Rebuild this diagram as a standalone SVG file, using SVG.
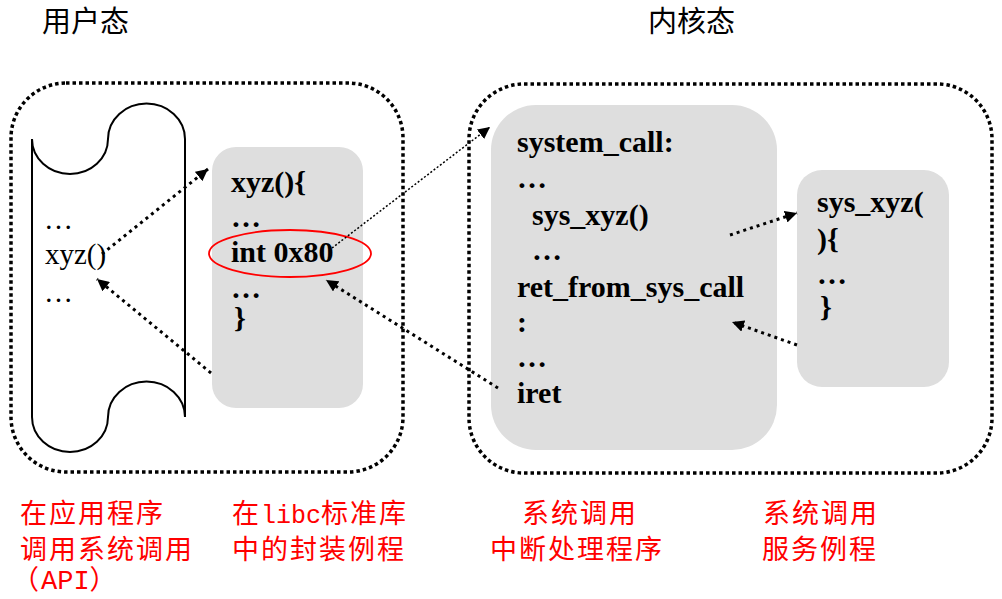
<svg xmlns="http://www.w3.org/2000/svg" width="1002" height="599" viewBox="0 0 1002 599">
<style>
.outer{fill:none;stroke:#000;stroke-width:3.5;stroke-dasharray:3.5 3}
.grey{fill:#dedede;stroke:none}
.code{font-family:"Liberation Serif","Times New Roman",serif;font-weight:bold;font-size:30px;fill:#000}
.plain{font-family:"Liberation Serif","Times New Roman",serif;font-size:29px;fill:#000}
.head{font-family:"Noto Sans CJK SC","Noto Sans",sans-serif;font-size:29px;fill:#000}
.note{font-family:"Noto Sans CJK SC","Noto Sans",sans-serif;font-size:27px;fill:#ff0000;letter-spacing:2px}
.mono{font-family:"Liberation Mono","Courier New",monospace;letter-spacing:0}
.arr{fill:none;stroke:#000;stroke-width:3;stroke-dasharray:3 4;marker-end:url(#ah)}
.thin{fill:none;stroke:#000;stroke-width:1.5;stroke-dasharray:2 2;marker-end:url(#ah)}
</style>
<defs>
<marker id="ah" markerUnits="userSpaceOnUse" markerWidth="14" markerHeight="12" refX="12" refY="6" orient="auto">
<path d="M0,0 L12,6 L0,12 Z" fill="#000"/>
</marker>
</defs>
<rect width="1002" height="599" fill="#fff"/>

<g id="heading-user"><text class="head" x="42" y="32">用户态</text></g>
<g id="heading-kernel"><text class="head" x="648" y="32">内核态</text></g>

<g id="user-space"><rect class="outer" x="11" y="83" width="392" height="389" rx="55"/></g>
<g id="kernel-space"><rect class="outer" x="469" y="84" width="523" height="389" rx="55"/></g>

<g id="app-program">
<path d="M32,139 A38,35 0 0 0 108,139 A38,35 0 0 1 185,139 L185,417 A38,35 0 0 0 108,417 A38,35 0 0 1 32,417 Z" fill="#fff" stroke="#000" stroke-width="2"/>
<text class="plain" x="44" y="229">…</text>
<text class="plain" x="45" y="264">xyz()</text>
<text class="plain" x="44" y="302">…</text>
</g>

<g id="libc-wrapper">
<rect class="grey" x="212" y="147" width="151" height="261" rx="24"/>
<text class="code" x="231" y="192">xyz(){</text>
<text class="code" x="231" y="227">…</text>
<text class="code" x="231" y="262">int 0x80</text>
<text class="code" x="231" y="298">…</text>
<text class="code" x="234" y="328">}</text>
<ellipse cx="290" cy="253.5" rx="81" ry="23.5" fill="none" stroke="#ff0000" stroke-width="1.8"/>
</g>

<g id="system-call-handler">
<rect class="grey" x="491" y="105" width="286" height="345" rx="45"/>
<text class="code" x="517" y="152">system_call:</text>
<text class="code" x="517" y="188">…</text>
<text class="code" x="532" y="225">sys_xyz()</text>
<text class="code" x="532" y="260">…</text>
<text class="code" x="517" y="297">ret_from_sys_call</text>
<text class="code" x="517" y="332">:</text>
<text class="code" x="517" y="367">…</text>
<text class="code" x="517" y="403">iret</text>
</g>

<g id="service-routine">
<rect class="grey" x="797" y="170" width="152" height="217" rx="25"/>
<text class="code" x="817" y="212">sys_xyz(</text>
<text class="code" x="817" y="249">){</text>
<text class="code" x="817" y="284">…</text>
<text class="code" x="820" y="317">}</text>
</g>

<g id="connectors">
<line class="arr" x1="102" y1="254" x2="208" y2="169"/>
<line class="arr" x1="211" y1="373" x2="97" y2="279"/>
<line class="thin" x1="332" y1="248" x2="490" y2="127"/>
<line class="arr" x1="498" y1="388" x2="326" y2="280"/>
<line class="arr" x1="730" y1="235" x2="797" y2="213"/>
<line class="arr" x1="797" y1="345" x2="732" y2="322"/>
</g>

<g id="labels">
<text class="note" x="20" y="523">在应用程序</text>
<text class="note" x="20" y="559">调用系统调用</text>
<text class="note" x="12" y="589">（<tspan class="mono">API</tspan>）</text>
<text class="note" x="232" y="523">在<tspan class="mono" font-size="25">libc</tspan>标准库</text>
<text class="note" x="232" y="559">中的封装例程</text>
<text class="note" x="522" y="523">系统调用</text>
<text class="note" x="490" y="559">中断处理程序</text>
<text class="note" x="763" y="523">系统调用</text>
<text class="note" x="762" y="559">服务例程</text>
</g>
</svg>
